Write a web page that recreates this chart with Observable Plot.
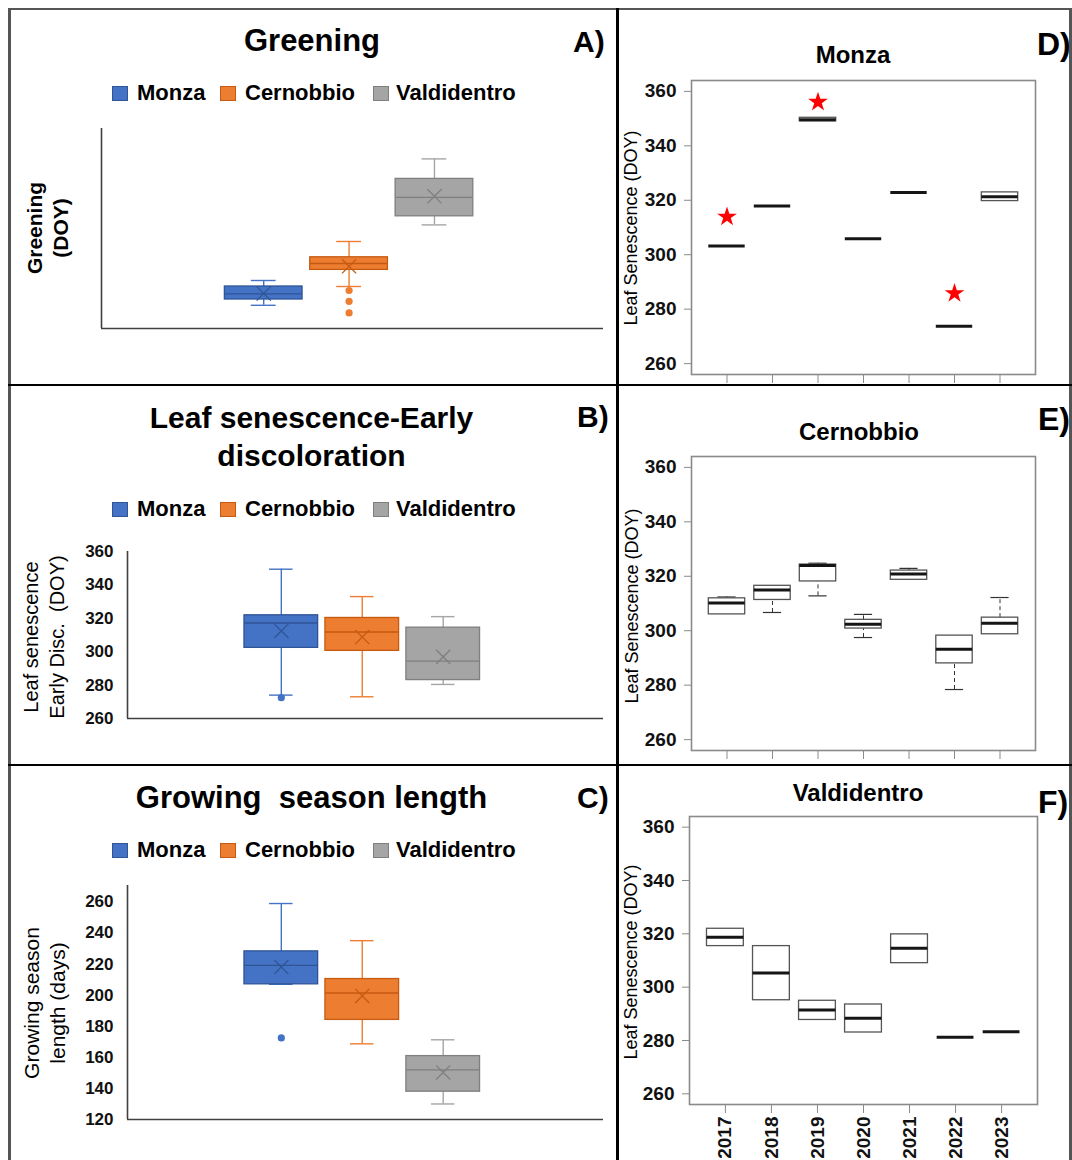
<!DOCTYPE html>
<html><head><meta charset="utf-8">
<script src="https://cdn.jsdelivr.net/npm/d3@7"></script>
<script src="https://cdn.jsdelivr.net/npm/@observablehq/plot@0.6"></script>
<style>
body{margin:0;background:#fff;}
#root{position:relative;width:1072px;height:1160px;overflow:hidden;background:#fff;font-family:"Liberation Sans",Arial,sans-serif;color:#000;}
.abs{position:absolute;white-space:pre;line-height:1;}
</style></head><body><div id="root"></div>
<script>
// ---------- data ----------
const sites = ["Monza", "Cernobbio", "Valdidentro"];
const siteFill = ["#4472C4", "#ED7D31", "#A5A5A5"];
const siteDark = ["#2F5597", "#C55A11", "#7F7F7F"];

// A) Greening (DOY) – the source shows no tick labels
const greenLow    = [71.6, 81.0, 111.8];
const greenQ1     = [74.5, 89.3, 116.1];
const greenMedian = [77.3, 92.5, 125.6];
const greenQ3     = [81.0, 95.6, 134.8];
const greenHigh   = [84.0, 103.5, 144.8];
const greenMean   = [77.5, 91.1, 126.1];
const greenOutSite  = ["Cernobbio", "Cernobbio", "Cernobbio"];
const greenOutValue = [79.0, 73.6, 67.8];

// B) Leaf senescence – early discoloration (DOY)
const senLow    = [274.0, 273.0, 280.4];
const senQ1     = [302.3, 300.5, 283.0];
const senMedian = [317.2, 311.8, 294.3];
const senQ3     = [321.8, 320.2, 314.4];
const senHigh   = [349.4, 333.0, 321.0];
const senMean   = [312.4, 308.8, 296.9];
const senOutSite  = ["Monza"];
const senOutValue = [272.5];
const senTicks = [260, 280, 300, 320, 340, 360];

// C) Growing season length (days)
const gslLow    = [207.0, 168.7, 130.0];
const gslQ1     = [207.0, 184.1, 137.9];
const gslMedian = [219.2, 201.4, 152.0];
const gslQ3     = [228.2, 210.4, 160.8];
const gslHigh   = [259.0, 235.1, 171.3];
const gslMean   = [218.1, 199.5, 150.3];
const gslOutSite  = ["Monza"];
const gslOutValue = [172.5];
const gslTicks = [120, 140, 160, 180, 200, 220, 240, 260];

// D-F) Leaf senescence per year (DOY)
const years = [2017, 2018, 2019, 2020, 2021, 2022, 2023];
const yearTicks = [260, 280, 300, 320, 340, 360];

const monzaLow    = [303.2, 317.9, 349.0, 305.9, 322.9, 273.7, 319.7];
const monzaQ1     = [303.2, 317.9, 349.0, 305.9, 322.9, 273.7, 319.7];
const monzaMedian = [303.2, 317.9, 349.6, 305.9, 322.9, 273.7, 321.3];
const monzaQ3     = [303.2, 317.9, 350.3, 305.9, 322.9, 273.7, 322.9];
const monzaHigh   = [303.2, 317.9, 350.3, 305.9, 322.9, 273.7, 322.9];
const monzaStarYears  = [2017, 2019, 2022];
const monzaStarValues = [313.9, 356.1, 285.8];

const cernLow    = [306.0, 306.7, 312.8, 297.5, 318.7, 278.4, 298.7];
const cernQ1     = [306.0, 311.3, 318.1, 300.8, 318.7, 288.0, 298.7];
const cernMedian = [310.2, 315.0, 324.0, 302.4, 320.8, 293.2, 302.7];
const cernQ3     = [311.9, 316.5, 324.3, 304.0, 322.1, 298.2, 304.8];
const cernHigh   = [312.4, 316.5, 324.8, 306.0, 322.9, 298.2, 312.2];

const valdLow    = [315.4, 295.1, 287.7, 283.0, 309.0, 281.2, 283.3];
const valdQ1     = [315.4, 295.1, 287.7, 283.0, 309.0, 281.2, 283.3];
const valdMedian = [318.7, 305.3, 291.4, 288.3, 314.6, 281.2, 283.3];
const valdQ3     = [321.9, 315.4, 294.9, 293.5, 319.8, 281.2, 283.3];
const valdHigh   = [321.9, 315.4, 294.9, 293.5, 319.8, 281.2, 283.3];

// ---------- helpers ----------
const FONT = '"Liberation Sans", Arial, sans-serif';
const root = document.getElementById("root");

function place(node, left, top) {
  node.style.position = "absolute";
  node.style.left = left + "px";
  node.style.top = top + "px";
  root.appendChild(node);
}
function label(str, {left, cx, baseline, size, weight = "bold"}) {
  const d = document.createElement("div");
  d.className = "abs";
  d.textContent = str;
  d.style.fontSize = size + "px";
  d.style.fontWeight = weight;
  d.style.top = (baseline - 0.8465 * size) + "px";
  if (cx != null) { d.style.left = cx + "px"; d.style.transform = "translateX(-50%)"; }
  else d.style.left = left + "px";
  root.appendChild(d);
}
function vlabel(lines, {cx, cy, size, weight = "normal", lh}) {
  const d = document.createElement("div");
  d.className = "abs";
  d.textContent = lines.join("\n");
  d.style.fontSize = size + "px";
  d.style.fontWeight = weight;
  d.style.lineHeight = (lh || size) + "px";
  d.style.textAlign = "center";
  d.style.left = cx + "px";
  d.style.top = cy + "px";
  d.style.transform = "translate(-50%,-50%) rotate(-90deg)";
  root.appendChild(d);
}
function legend(baseline) {
  const sq = [112, 220, 373], tx = [137, 245, 396];
  sites.forEach((s, i) => {
    const b = document.createElement("div");
    b.style.cssText = `position:absolute;left:${sq[i]}px;top:${baseline - 15}px;width:16px;height:15px;box-sizing:border-box;background:${siteFill[i]};border:1px solid ${siteDark[i]};`;
    root.appendChild(b);
    label(s, {left: tx[i], baseline, size: 22});
  });
}
function line(left, top, w, h, color) {
  const d = document.createElement("div");
  d.style.cssText = `position:absolute;left:${left}px;top:${top}px;width:${w}px;height:${h}px;background:${color};`;
  root.appendChild(d);
}

// Excel-style box panel (A, B, C)
const X_DOMAIN = [-1.9, 3.98];
function excelPanel({low, q1, med, q3, high, mean, outSite, outValue, yDomain, ticks, height, marginTop, marginBottom, marginLeft}) {
  const rows = sites.map((s, i) => ({site: s, i, low: low[i], q1: q1[i], med: med[i], q3: q3[i], high: high[i], mean: mean[i]}));
  const outs = outSite.map((s, k) => ({site: s, i: sites.indexOf(s), value: outValue[k]}));
  const fill = d => siteFill[d.i], dark = d => siteDark[d.i];
  const marks = [
    Plot.ruleX(rows, {x: "i", y1: "low", y2: "high", stroke: fill, strokeWidth: 1.4}),
    Plot.ruleY(rows, {y: "low", x1: d => d.i - 0.145, x2: d => d.i + 0.145, stroke: fill, strokeWidth: 1.4}),
    Plot.ruleY(rows, {y: "high", x1: d => d.i - 0.145, x2: d => d.i + 0.145, stroke: fill, strokeWidth: 1.4}),
    Plot.rect(rows, {x1: d => d.i - 0.455, x2: d => d.i + 0.455, y1: "q1", y2: "q3", fill, stroke: dark, strokeWidth: 1.3}),
    Plot.ruleY(rows, {y: "med", x1: d => d.i - 0.455, x2: d => d.i + 0.455, stroke: dark, strokeWidth: 1.3}),
    Plot.dot(rows, {x: "i", y: "mean", symbol: "times", r: 6.5, stroke: dark, strokeWidth: 1.3}),
    Plot.dot(outs, {x: "i", y: "value", r: 3.6, fill, stroke: "none"}),
    Plot.ruleX([X_DOMAIN[0]], {stroke: "#404040", strokeWidth: 1.6}),
    Plot.ruleY([yDomain[0]], {stroke: "#404040", strokeWidth: 1.6})
  ];
  if (ticks) marks.push(Plot.axisY({ticks, tickSize: 0, tickPadding: 14, label: null, fill: "#111"}));
  return Plot.plot({
    width: 610, height, marginTop, marginBottom, marginLeft, marginRight: 7,
    x: {domain: X_DOMAIN, axis: null},
    y: {domain: yDomain, axis: null},
    color: {type: "identity"},
    style: {fontFamily: FONT, fontSize: "17px", fontWeight: "bold", background: "transparent", overflow: "visible"},
    marks
  });
}

// R-style boxplot panel (D, E, F)
function rPanel({low, q1, med, q3, high, starYears, starValues, height, marginBottom, marginLeft, marginRight, showYears}) {
  const rows = years.map((y, k) => ({year: y, low: low[k], q1: q1[k], med: med[k], q3: q3[k], high: high[k]}));
  const marks = [
    Plot.frame({stroke: "#8a8a8a", strokeWidth: 1.6}),
    Plot.ruleX(rows.filter(d => d.high > d.q3), {x: "year", y1: "q3", y2: "high", stroke: "#333", strokeWidth: 1, strokeDasharray: "4,3"}),
    Plot.ruleX(rows.filter(d => d.low < d.q1), {x: "year", y1: "low", y2: "q1", stroke: "#333", strokeWidth: 1, strokeDasharray: "4,3"}),
    Plot.ruleY(rows.filter(d => d.high > d.q3), {y: "high", x1: d => d.year - 0.2, x2: d => d.year + 0.2, stroke: "#333", strokeWidth: 1.2}),
    Plot.ruleY(rows.filter(d => d.low < d.q1), {y: "low", x1: d => d.year - 0.2, x2: d => d.year + 0.2, stroke: "#333", strokeWidth: 1.2}),
    Plot.rect(rows, {x1: d => d.year - 0.4, x2: d => d.year + 0.4, y1: "q1", y2: "q3", fill: "white", stroke: "#555", strokeWidth: 1.3}),
    Plot.ruleY(rows, {y: "med", x1: d => d.year - 0.4, x2: d => d.year + 0.4, stroke: "#151515", strokeWidth: 3}),
    Plot.axisY({ticks: yearTicks, tickSize: 7, tickPadding: 8, stroke: "#8a8a8a", fill: "#111", label: null}),
    Plot.axisX({ticks: years, tickSize: 9, tickPadding: 3, stroke: "#8a8a8a", fill: "#111", label: null,
      tickFormat: showYears ? (d => String(d)) : (() => ""), tickRotate: showYears ? -90 : 0})
  ];
  if (starYears) {
    const stars = starYears.map((y, k) => ({year: y, value: starValues[k]}));
    marks.push(Plot.dot(stars, {x: "year", y: "value", symbol: "star", r: 6.2, fill: "#ff0000", stroke: "none"}));
  }
  return Plot.plot({
    width: 457, height, marginTop: 10, marginBottom, marginLeft, marginRight,
    x: {domain: [2016.22, 2023.78], axis: null},
    y: {domain: [256, 364], axis: null},
    style: {fontFamily: FONT, fontSize: "19px", fontWeight: "bold", background: "transparent", overflow: "visible"},
    marks
  });
}

// ---------- panel A ----------
label("Greening", {cx: 312, baseline: 51, size: 31});
label("A)", {left: 573, baseline: 52, size: 30});
legend(101);
vlabel(["Greening", "(DOY)"], {cx: 48, cy: 228, size: 21, weight: "bold", lh: 26});
place(excelPanel({low: greenLow, q1: greenQ1, med: greenMedian, q3: greenQ3, high: greenHigh, mean: greenMean,
  outSite: greenOutSite, outValue: greenOutValue, yDomain: [60, 160], ticks: null,
  height: 220, marginTop: 8, marginBottom: 12, marginLeft: 101}), 0, 120);

// ---------- panel B ----------
label("Leaf senescence-Early", {cx: 311.5, baseline: 428, size: 30});
label("discoloration", {cx: 311.5, baseline: 466, size: 30});
label("B)", {left: 577, baseline: 427, size: 30});
legend(517);
vlabel(["Leaf senescence", "Early Disc.  (DOY)"], {cx: 45, cy: 637, size: 20, lh: 25.6});
place(excelPanel({low: senLow, q1: senQ1, med: senMedian, q3: senQ3, high: senHigh, mean: senMean,
  outSite: senOutSite, outValue: senOutValue, yDomain: [260, 360], ticks: senTicks,
  height: 190, marginTop: 11, marginBottom: 12, marginLeft: 127}), 0, 540);

// ---------- panel C ----------
label("Growing  season length", {cx: 311.5, baseline: 808, size: 31});
label("C)", {left: 577, baseline: 808, size: 30});
legend(858);
vlabel(["Growing season", "length (days)"], {cx: 45, cy: 1003, size: 21, lh: 25.6});
place(excelPanel({low: gslLow, q1: gslQ1, med: gslMedian, q3: gslQ3, high: gslHigh, mean: gslMean,
  outSite: gslOutSite, outValue: gslOutValue, yDomain: [120, 270.6], ticks: gslTicks,
  height: 255, marginTop: 10, marginBottom: 11, marginLeft: 127}), 0, 875);

// ---------- panel D ----------
label("Monza", {cx: 853, baseline: 63, size: 24});
label("D)", {left: 1037, baseline: 55, size: 32});
vlabel(["Leaf Senescence (DOY)"], {cx: 631, cy: 228, size: 18});
place(rPanel({low: monzaLow, q1: monzaQ1, med: monzaMedian, q3: monzaQ3, high: monzaHigh,
  starYears: monzaStarYears, starValues: monzaStarValues,
  height: 316, marginBottom: 12, marginLeft: 76, marginRight: 37, showYears: false}), 615, 70);

// ---------- panel E ----------
label("Cernobbio", {cx: 859, baseline: 440, size: 24});
label("E)", {left: 1038, baseline: 430, size: 32});
vlabel(["Leaf Senescence (DOY)"], {cx: 632, cy: 606, size: 18});
place(rPanel({low: cernLow, q1: cernQ1, med: cernMedian, q3: cernQ3, high: cernHigh,
  height: 316, marginBottom: 12, marginLeft: 76, marginRight: 37, showYears: false}), 615, 446);

// ---------- panel F ----------
label("Valdidentro", {cx: 858, baseline: 801, size: 24});
label("F)", {left: 1038, baseline: 813, size: 32});
vlabel(["Leaf Senescence (DOY)"], {cx: 631, cy: 962, size: 18});
place(rPanel({low: valdLow, q1: valdQ1, med: valdMedian, q3: valdQ3, high: valdHigh,
  height: 354, marginBottom: 56, marginLeft: 74, marginRight: 35, showYears: true}), 615, 806);

// ---------- panel borders ----------
line(8, 8, 1064, 2, "#555");
line(8, 8, 3, 1152, "#555");
line(1069, 8, 3, 1152, "#555");
line(616, 8, 3, 1152, "#000");
line(8, 384, 1064, 2, "#000");
line(8, 764, 1064, 2, "#000");
</script></body></html>
